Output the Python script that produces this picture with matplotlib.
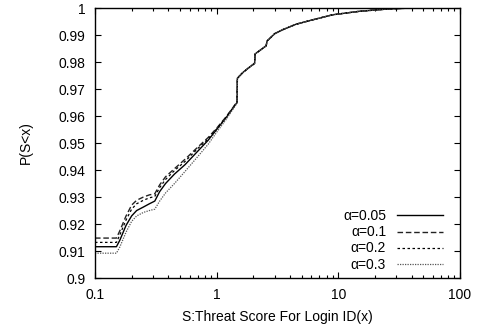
import matplotlib
matplotlib.use('Agg')
import matplotlib.pyplot as plt
from matplotlib.ticker import LogLocator, NullFormatter, FixedLocator

# threat score (x) and cumulative probability for each alpha
score = [0.1, 0.15, 0.16, 0.18, 0.2, 0.22, 0.25, 0.28, 0.31, 0.34, 0.38, 0.45,
         0.55, 0.7, 0.85, 1.0, 1.2, 1.47, 1.48, 1.65, 1.85, 2.05, 2.07, 2.3,
         2.55, 2.6, 3.0, 3.5, 4.5, 6, 9, 15, 25, 40, 100]

tail = [0.9740, 0.9762, 0.9780, 0.9795, 0.9830, 0.9845, 0.9860, 0.9878,
        0.9905, 0.9920, 0.9940, 0.9955, 0.9975, 0.9988, 0.9996, 1.0, 1.0]

p_005 = [0.9116, 0.9116, 0.9140, 0.9195, 0.9230, 0.9250, 0.9263, 0.9275, 0.9285,
         0.9320, 0.9350, 0.9385, 0.9420, 0.9470, 0.9510, 0.9550, 0.9595, 0.9650] + tail
p_01 = [0.9148, 0.9148, 0.9175, 0.9230, 0.9270, 0.9288, 0.9300, 0.9308, 0.9312,
        0.9345, 0.9375, 0.9405, 0.9440, 0.9485, 0.9520, 0.9555, 0.9598, 0.9652] + tail
p_02 = [0.9132, 0.9132, 0.9160, 0.9215, 0.9255, 0.9275, 0.9288, 0.9297, 0.9302,
        0.9335, 0.9365, 0.9398, 0.9432, 0.9480, 0.9515, 0.9552, 0.9596, 0.9651] + tail
p_03 = [0.9092, 0.9092, 0.9115, 0.9170, 0.9210, 0.9230, 0.9243, 0.9250, 0.9255,
        0.9285, 0.9315, 0.9350, 0.9395, 0.9450, 0.9495, 0.9540, 0.9588, 0.9648] + tail

labels = ['α=0.05', 'α=0.1', 'α=0.2', 'α=0.3']
yticks = [0.9, 0.91, 0.92, 0.93, 0.94, 0.95, 0.96, 0.97, 0.98, 0.99, 1.0]
ytick_labels = ['0.9', '0.91', '0.92', '0.93', '0.94', '0.95', '0.96', '0.97', '0.98', '0.99', '1']
xticks = [0.1, 1, 10, 100]
xtick_labels = ['0.1', '1', '10', '100']

plt.rcParams['font.family'] = ['Liberation Sans', 'DejaVu Sans']
plt.rcParams['font.size'] = 10

fig = plt.figure(figsize=(4.81, 3.31), dpi=100)
ax = fig.add_axes([0.1975, 0.160, 0.7588, 0.8158])

ax.plot(score, p_005, color='black', lw=1.0, linestyle='-', label=labels[0])
ax.plot(score, p_01, color='#222222', lw=1.0, linestyle=(0, (4, 2)), label=labels[1])
ax.plot(score, p_02, color='black', lw=0.9, linestyle=(0, (2, 2)), label=labels[2])
ax.plot(score, p_03, color='#555555', lw=0.9, linestyle=(0, (1, 1)), label=labels[3])

ax.set_xscale('log')
ax.set_xlim(0.1, 100)
ax.set_ylim(0.9, 1.0)
ax.set_xticks(xticks)
ax.set_xticklabels(xtick_labels)
ax.xaxis.set_minor_locator(LogLocator(base=10, subs=range(2, 10)))
ax.xaxis.set_minor_formatter(NullFormatter())
ax.yaxis.set_major_locator(FixedLocator(yticks))
ax.set_yticklabels(ytick_labels)

ax.tick_params(which='both', direction='in', top=True, right=True)
ax.tick_params(which='major', length=4, width=0.8, pad=7)
ax.tick_params(which='minor', length=2, width=0.8)
for s in ax.spines.values():
    s.set_linewidth(1.0)

ax.set_xlabel('S:Threat Score For Login ID(x)', labelpad=6)
ax.set_ylabel('P(S<x)', labelpad=18)

ax.legend(loc='lower right', frameon=False, markerfirst=False, handlelength=3.3,
          labelspacing=0.15, handletextpad=0.8, borderaxespad=0.3,
          bbox_to_anchor=(0.98, -0.012))

fig.savefig('out.png', dpi=100)
